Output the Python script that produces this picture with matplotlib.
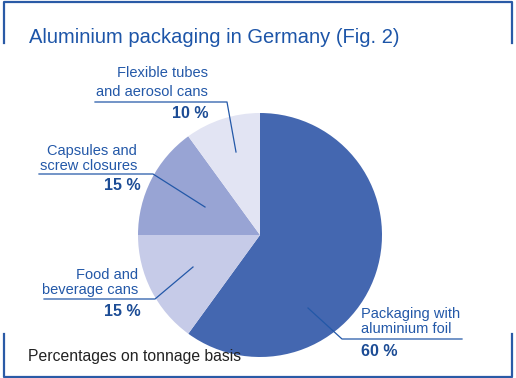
import matplotlib.pyplot as plt

plt.rcParams['font.family'] = ['Liberation Sans', 'DejaVu Sans']

title = "Aluminium packaging in Germany (Fig. 2)"
labels = ["Packaging with\naluminium foil", "Food and\nbeverage cans",
          "Capsules and\nscrew closures", "Flexible tubes\nand aerosol cans"]
shares = [60, 15, 15, 10]
colors = ["#4467b0", "#c6cbe8", "#98a4d4", "#e2e4f3"]
note = "Percentages on tonnage basis"

blue = "#2358a8"
dark = "#1c4c95"

W, H = 516, 378
fig = plt.figure(figsize=(W / 100, H / 100), dpi=100)

# pie axes, centre (260,235) px, radius 122 px
cx, cy, R = 260, 235, 122
ax = fig.add_axes([(cx - R) / W, (H - cy - R) / H, 2 * R / W, 2 * R / H])
ax.pie(shares, colors=colors, startangle=90, counterclock=False,
       wedgeprops=dict(linewidth=0))
ax.set_xlim(-1, 1)
ax.set_ylim(-1, 1)
ax.axis('off')

# overlay in pixel coords (y down)
ov = fig.add_axes([0, 0, 1, 1], zorder=3)
ov.set_xlim(0, W)
ov.set_ylim(H, 0)
ov.axis('off')
ov.patch.set_alpha(0)

# frame corners
lw = 1.6
ov.plot([4, 4, 512, 512], [43, 1.5, 1.5, 43], color="#2a5aa6", lw=lw)
ov.plot([4, 4, 512, 512], [334, 376.5, 376.5, 334], color="#2a5aa6", lw=lw)

ov.text(29, 43, title, fontsize=14.5, color="#1d55a8", ha='left', va='baseline')

# leader lines: (horizontal start, horizontal end, y, inner point)
leaders = [
    ([342, 462], 339, (308, 308)),
    ([44, 155], 299, (193, 267)),
    ([39, 153], 174, (205, 207)),
    ([95, 227], 102, (236, 152)),
]
lab_pos = [(361, 333, 'left', 1.05), (138, 294, 'right', 1.1),
           (137, 170, 'right', 1.1), (208, 96, 'right', 1.45)]
pct_pos = [(361, 352, 'left'), (141, 312, 'right'), (141, 186, 'right'), (208, 113, 'right')]

for i, (hx, hy, (px, py)) in enumerate(leaders):
    if i == 0:
        ov.plot([px, hx[0], hx[1]], [py, hy, hy], color=blue, lw=0.9)
    else:
        ov.plot([hx[0], hx[1], px], [hy, hy, py], color=blue, lw=0.9)
    x, y, ha, ls = lab_pos[i]
    ov.text(x, y, labels[i], fontsize=10.5, color=blue, ha=ha, va='baseline',
            linespacing=ls)
    x, y, ha = pct_pos[i]
    ov.text(x, y, f"{shares[i]} %", fontsize=11.5, fontweight='bold', color=dark,
            ha=ha, va='center')

ov.text(28, 357, note, fontsize=11.3, color="#222222", ha='left', va='center')

fig.savefig("out.png", dpi=100)
